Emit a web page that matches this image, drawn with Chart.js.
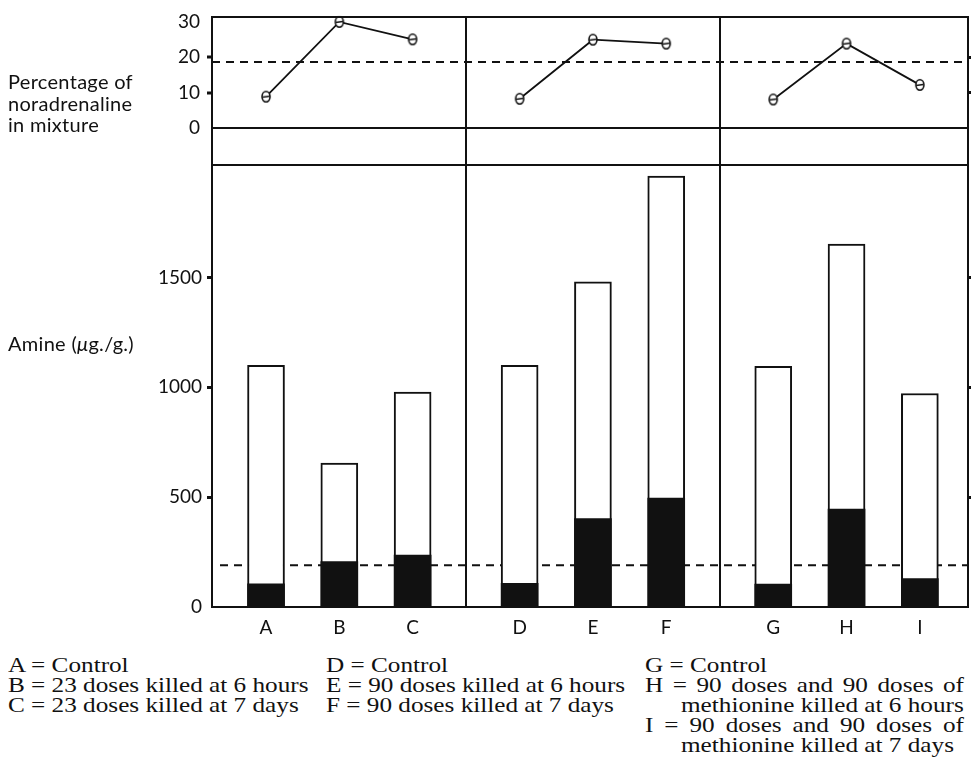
<!DOCTYPE html>
<html>
<head>
<meta charset="utf-8">
<script src="https://cdn.jsdelivr.net/npm/chart.js@4.4.1/dist/chart.umd.min.js"></script>
<style>
  html, body { margin: 0; padding: 0; background: #fff; }
  #wrap { position: relative; width: 971px; height: 758px; overflow: hidden; background: #fff; }
  canvas { position: absolute; left: 0; }
  #pctChart { top: 0; }
  #amineChart { top: 150px; }
  .axisTitle { position: absolute; left: 8px; font-family: Lato, sans-serif; font-size: 20px;
               line-height: 21.5px; color: #111; letter-spacing: 0.3px; white-space: nowrap; }
  .key { position: absolute; font-family: "Liberation Serif", "Times New Roman", serif; font-size: 21px;
         line-height: 21px; color: #111; white-space: nowrap; transform-origin: 0 0; transform: scaleX(1.2); }
  .key.just { white-space: normal; text-align: justify; text-align-last: justify; }
</style>
</head>
<body>
<div id="wrap">
  <canvas id="pctChart" width="971" height="166"></canvas>
  <canvas id="amineChart" width="971" height="500"></canvas>
  <div class="axisTitle" style="top:71px">Percentage of<br>noradrenaline<br>in mixture</div>
  <div class="axisTitle" style="top:333px">Amine (<i>μ</i>g./g.)</div>
  <div id="keys"></div>
</div>
<script>
// Groups of three treatments: A–C, D–F, G–I
const categories = ['A', 'B', 'C', 'D', 'E', 'F', 'G', 'H', 'I'];
// Percentage of noradrenaline in the amine mixture
const noradrenalinePct = [8.9, 29.9, 25.0, 8.3, 24.9, 23.8, 8.1, 23.8, 12.2];
// Total amine (µg./g.) and its noradrenaline part
const totalAmine = [1100, 655, 978, 1100, 1480, 1962, 1095, 1652, 972];
const noradrenaline = [106, 207, 236, 108, 402, 496, 104, 446, 129];
// Dashed reference levels
const pctReference = 18.6;
const amineReference = 190;
// Axis ticks
const pctTicks = [0, 10, 20, 30];
const amineTicks = [0, 500, 1000, 1500];

// Key beneath the chart
const keyColumn1 = ['A = Control', 'B = 23 doses killed at 6 hours', 'C = 23 doses killed at 7 days'];
const keyColumn2 = ['D = Control', 'E = 90 doses killed at 6 hours', 'F = 90 doses killed at 7 days'];
const keyColumn3 = ['G = Control', 'H = 90 doses and 90 doses of', 'methionine killed at 6 hours',
                    'I = 90 doses and 90 doses of', 'methionine killed at 7 days'];

const INK = '#111';
const CLEAR = 'rgba(0,0,0,0)';
const GROUP_SIZE = 3;
const GROUP_GAP = 0.46;
const X_MIN = -0.737, X_MAX = 9.577;

Chart.defaults.font.family = 'Lato, sans-serif';
Chart.defaults.color = INK;

// x position of each treatment: evenly spaced, with a wider gap between groups
const xPos = categories.map((_, i) => i + Math.floor(i / GROUP_SIZE) * GROUP_GAP);
// Vertical dividers halfway between neighbouring groups
const dividers = [];
for (let i = GROUP_SIZE; i < categories.length; i += GROUP_SIZE) {
  dividers.push((xPos[i - 1] + xPos[i]) / 2);
}

// Box round the plot area, group dividers and a dashed reference level
const panelFrame = {
  id: 'panelFrame',
  beforeDatasetsDraw(chart, args, opts) {
    const { ctx, chartArea: a, scales } = chart;
    const y = scales.y.getPixelForValue(opts.reference);
    ctx.save();
    ctx.strokeStyle = INK;
    ctx.lineWidth = 2;
    ctx.setLineDash([8, 6]);
    ctx.beginPath();
    ctx.moveTo(a.left + (opts.dashInset || 0), y);
    ctx.lineTo(a.right, y);
    ctx.stroke();
    ctx.restore();
  },
  afterDatasetsDraw(chart) {
    const { ctx, chartArea: a, scales } = chart;
    ctx.save();
    ctx.strokeStyle = INK;
    ctx.lineWidth = 2;
    ctx.strokeRect(a.left, a.top, a.right - a.left, a.bottom - a.top);
    dividers.forEach(d => {
      const x = Math.round(scales.x.getPixelForValue(d));
      ctx.beginPath();
      ctx.moveTo(x, a.top);
      ctx.lineTo(x, a.bottom);
      ctx.stroke();
    });
    ctx.restore();
  }
};

// Open circle with a bar through it, as used for the percentage points
function makeMarker() {
  const c = document.createElement('canvas');
  c.width = 12; c.height = 14;
  const g = c.getContext('2d');
  g.fillStyle = '#fff';
  g.strokeStyle = INK;
  g.lineWidth = 1.6;
  g.beginPath();
  g.ellipse(6, 7, 4, 5.2, 0, 0, Math.PI * 2);
  g.fill();
  g.stroke();
  g.beginPath();
  g.moveTo(2.5, 7.5);
  g.lineTo(9.5, 6.5);
  g.stroke();
  return c;
}
const marker = makeMarker();

function fixedTicks(values) {
  return scale => { scale.ticks = values.map(v => ({ value: v })); };
}
// Fix an axis' size and drop the extra room Chart.js keeps for edge labels
function fixSize(prop, size) {
  return s => {
    s[prop] = size;
    s.paddingTop = 0; s.paddingBottom = 0; s.paddingLeft = 0; s.paddingRight = 0;
  };
}
const plain = v => String(v);

// ---------- upper panel: percentage of noradrenaline ----------
const pctDatasets = [];
for (let g = 0; g < categories.length; g += GROUP_SIZE) {
  const pts = [];
  for (let i = g; i < g + GROUP_SIZE; i++) pts.push({ x: xPos[i], y: noradrenalinePct[i] });
  pctDatasets.push({
    type: 'line',
    label: 'Noradrenaline % ' + categories[g] + '–' + categories[g + GROUP_SIZE - 1],
    data: pts,
    borderColor: INK,
    borderWidth: 1.8,
    pointStyle: marker,
    pointRadius: 6,
    tension: 0,
    clip: false
  });
}

new Chart(document.getElementById('pctChart'), {
  type: 'line',
  data: { datasets: pctDatasets },
  options: {
    responsive: false,
    animation: false,
    events: [],
    layout: { autoPadding: false, padding: { top: 17, right: 3, bottom: 1, left: 0 } },
    plugins: { legend: { display: false }, tooltip: { enabled: false },
               panelFrame: { reference: pctReference } },
    scales: {
      x: { type: 'linear', min: X_MIN, max: X_MAX, offset: false, display: false },
      y: {
        type: 'linear', min: -10.3, max: 31.27,
        afterBuildTicks: fixedTicks(pctTicks),
        afterFit: fixSize('width', 212),
        border: { display: false },
        grid: {
          drawOnChartArea: true,
          lineWidth: 2,
          color: c => (c.tick && c.tick.value === 0 ? INK : CLEAR),
          tickColor: c => (c.tick && (c.tick.value === 10 || c.tick.value === 20) ? INK : CLEAR),
          tickLength: 5,
          tickWidth: 3
        },
        ticks: { font: { size: 19 }, padding: 7, color: INK, callback: plain }
      },
      yRight: {
        type: 'linear', position: 'right', min: -10.3, max: 31.27,
        afterBuildTicks: fixedTicks([10, 20]),
        afterFit: fixSize('width', 0),
        border: { display: false },
        grid: { drawOnChartArea: false, tickLength: 4, tickWidth: 3, tickColor: INK },
        ticks: { display: false }
      }
    }
  },
  plugins: [panelFrame]
});

// ---------- lower panel: amine content ----------
const barThickness = 37;
new Chart(document.getElementById('amineChart'), {
  type: 'bar',
  data: {
    datasets: [
      {
        label: 'Noradrenaline',
        data: xPos.map((x, i) => ({ x, y: noradrenaline[i] })),
        backgroundColor: INK,
        borderWidth: 0,
        barThickness,
        grouped: false,
        order: 0
      },
      {
        label: 'Total amine',
        data: xPos.map((x, i) => ({ x, y: totalAmine[i] })),
        backgroundColor: '#fff',
        borderColor: INK,
        borderWidth: 2,
        barThickness,
        grouped: false,
        order: 1
      }
    ]
  },
  options: {
    responsive: false,
    animation: false,
    events: [],
    layout: { autoPadding: false, padding: { top: 15, right: 3, bottom: 0, left: 0 } },
    plugins: { legend: { display: false }, tooltip: { enabled: false },
               panelFrame: { reference: amineReference, dashInset: 8 } },
    scales: {
      x: {
        type: 'linear', min: X_MIN, max: X_MAX, offset: false,
        afterBuildTicks: fixedTicks(xPos),
        afterFit: fixSize('height', 43),
        border: { display: false },
        grid: { display: false, drawTicks: false },
        ticks: {
          autoSkip: false, maxRotation: 0, padding: 9, color: INK,
          font: { size: 19 },
          callback: (v, i) => categories[i]
        }
      },
      y: {
        type: 'linear', min: 0, max: 2012,
        afterBuildTicks: fixedTicks(amineTicks),
        afterFit: fixSize('width', 212),
        border: { display: false },
        grid: {
          drawOnChartArea: false,
          tickColor: c => (c.tick && c.tick.value === 0 ? CLEAR : INK),
          tickLength: 5,
          tickWidth: 3
        },
        ticks: { font: { size: 19 }, padding: 5, color: INK, callback: plain }
      },
      yRight: {
        type: 'linear', position: 'right', min: 0, max: 2012,
        afterBuildTicks: fixedTicks([500, 1000, 1500]),
        afterFit: fixSize('width', 0),
        border: { display: false },
        grid: { drawOnChartArea: false, tickLength: 4, tickWidth: 3, tickColor: INK },
        ticks: { display: false }
      }
    }
  },
  plugins: [panelFrame]
});

// ---------- key ----------
const KEY_SCALE = 1.2;
const keyHost = document.getElementById('keys');
function addKey(text, left, row, justifyTo) {
  const d = document.createElement('div');
  d.className = 'key' + (justifyTo ? ' just' : '');
  d.textContent = text;
  d.style.left = left + 'px';
  d.style.top = (654.5 + row * 20) + 'px';
  if (justifyTo) d.style.width = ((justifyTo - left) / KEY_SCALE) + 'px';
  keyHost.appendChild(d);
}
keyColumn1.forEach((t, r) => addKey(t, 8, r));
keyColumn2.forEach((t, r) => addKey(t, 326, r));
keyColumn3.forEach((t, r) => {
  const indented = t.startsWith('methionine');
  if (indented) addKey(t, 681, r);
  else if (r === 0) addKey(t, 645, r);
  else addKey(t, 645, r, 964);
});
</script>
</body>
</html>
